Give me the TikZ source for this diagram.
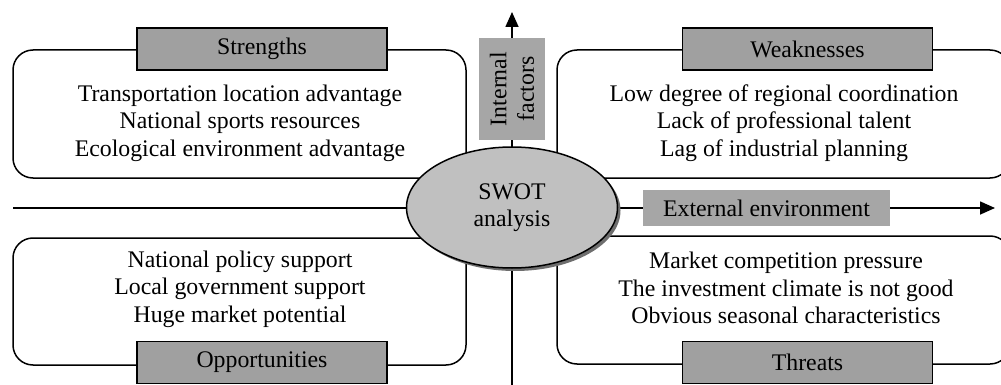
\documentclass[tikz,border=0pt]{standalone}
\usepackage{fontspec}
\setmainfont{Liberation Serif}
\usetikzlibrary{arrows.meta,shapes.geometric,shadows}
\definecolor{labelgray}{HTML}{A0A0A0}
\definecolor{axisgray}{HTML}{A6A6A6}
\definecolor{ellgray}{HTML}{C0C0C0}
\definecolor{shadowgray}{HTML}{6E6E6E}
\begin{document}
\begin{tikzpicture}[x=1pt,y=-1pt,
  font=\fontsize{23.8}{27.5}\selectfont,
  quadbox/.style={draw, line width=1.5pt, rounded corners=20pt, minimum width=453pt, inner sep=0pt},
  tagbox/.style={draw, line width=1.5pt, fill=labelgray, minimum width=250pt, minimum height=42pt, inner sep=0pt},
  axisbox/.style={fill=axisgray, inner sep=0pt},
  listtext/.style={align=center, inner sep=0pt},
  axisline/.style={line width=1.6pt, -{Triangle[length=15pt,width=13pt]}}]
\useasboundingbox (0,0) rectangle (1001,385);
% axes
\coordinate (vbot) at (512,392);
\coordinate (vtop) at (512,12);
\coordinate (hleft) at (13,208);
\coordinate (hright) at (995,208);
\draw[axisline] (vbot) -- (vtop);
\draw[axisline] (hleft) -- (hright);
% quadrant boxes
\node[quadbox, minimum height=128pt] (sbox) at (239.5,114) {};
\node[quadbox, minimum height=128pt] (wbox) at (783.5,114) {};
\node[quadbox, minimum height=127pt] (obox) at (239.5,301.5) {};
\node[quadbox, minimum height=128pt] (tbox) at (783.5,300) {};
% tags
\node[tagbox] (stag) at (262,49) {Strengths};
\node[tagbox] (wtag) at (807.5,49) {Weaknesses};
\node[tagbox] (otag) at (262,362.5) {Opportunities};
\node[tagbox] (ttag) at (807.5,362.5) {Threats};
% lists
\node[listtext] (stxt) at (240,123) {Transportation location advantage\\National sports resources\\Ecological environment advantage};
\node[listtext] (wtxt) at (784,123) {Low degree of regional coordination\\Lack of professional talent\\Lag of industrial planning};
\node[listtext] (otxt) at (240,289) {National policy support\\Local government support\\Huge market potential};
\node[listtext] (ttxt) at (786,288) {Market competition pressure\\The investment climate is not good\\Obvious seasonal characteristics};
% axis labels
\node[axisbox, rotate=90, minimum width=102pt, minimum height=66pt, align=center] (intf) at (512,89) {Internal\\factors};
\node[axisbox, minimum width=247pt, minimum height=36pt] (extf) at (766.5,208) {External environment};
% center
\node[ellipse, draw, line width=1.5pt, fill=ellgray, minimum width=211pt, minimum height=121pt, align=center, inner sep=0pt,
  drop shadow={shadow xshift=3pt, shadow yshift=-3pt, fill=shadowgray, opacity=1}] (swot) at (512,207.5) {SWOT\\analysis};
\end{tikzpicture}
\end{document}
